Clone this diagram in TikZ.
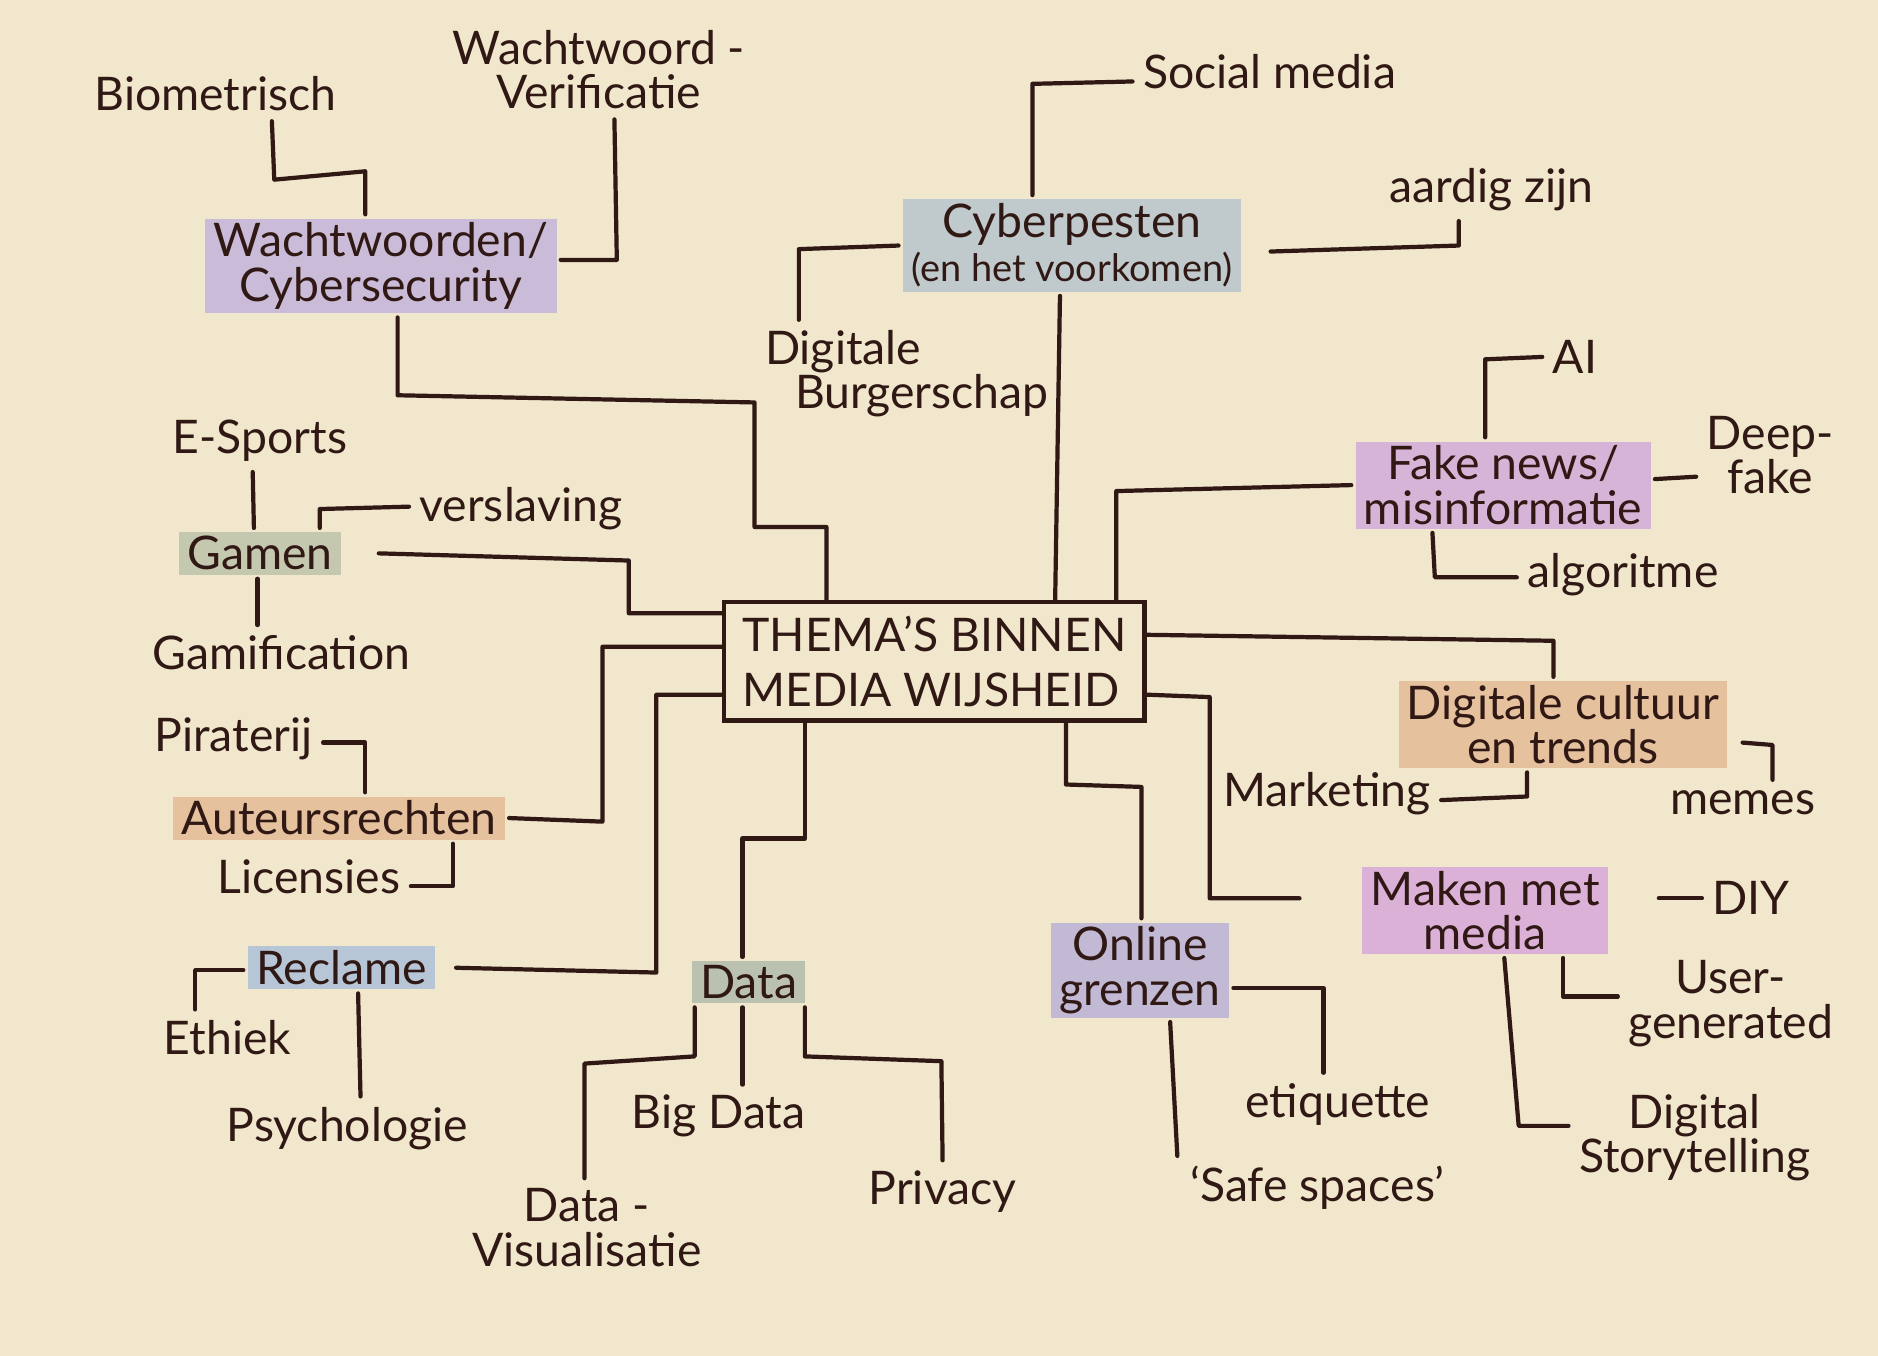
\documentclass[tikz,border=0pt]{standalone}
\usepackage{fontspec}
\setmainfont{Lato}
\usepackage{tikz}
\usetikzlibrary{positioning}
\definecolor{dPaper}{RGB}{241,231,204}
\definecolor{dInk}{RGB}{48,24,20}
\definecolor{dLila}{RGB}{202,188,216}
\definecolor{dGrey}{RGB}{192,202,204}
\definecolor{dMoss}{RGB}{196,200,174}
\definecolor{dApricot}{RGB}{229,193,158}
\definecolor{dSky}{RGB}{182,198,214}
\definecolor{dSage}{RGB}{186,193,175}
\definecolor{dLavender}{RGB}{194,186,213}
\definecolor{dPink}{RGB}{219,177,215}
\definecolor{dMauve}{RGB}{214,180,215}
\tikzset{
  sub/.style={text=dInk, inner sep=1.5pt, outer sep=1pt, align=center,
              font=\fontsize{11}{10.5}\selectfont},
  topic/.style={sub, inner xsep=2pt, inner ysep=1pt},
  hub/.style={rectangle, draw=dInk, line width=1.1pt, fill=dPaper,
              minimum width=3.51cm, minimum height=0.95cm, align=left,
              text=dInk, font=\fontsize{11}{13}\selectfont},
  link/.style={draw=dInk, line width=1pt, line join=round, line cap=round},
}

\begin{document}
\begin{tikzpicture}[x=0.01cm, y=-0.01cm]
  \fill[dPaper] (0,0) rectangle (1568,1132);
  \useasboundingbox (0,0) rectangle (1568,1132);
  % centre
  \node[hub] (thema) at (780,552) {THEMA'S BINNEN\\MEDIA WIJSHEID};
  % themes and their branches
  \node[sub] (bio) at (180,78) {Biometrisch};
  \node[sub] (verif) at (500,58) {Wachtwoord -\\Verificatie};
  \node[topic, fill=dLila] (wacht) at (318,222) {Wachtwoorden/\\Cybersecurity};
  \node[sub] (social) at (1060,60) {Social media};
  \node[topic, fill=dGrey] (cyber) at (895,205)
    {Cyberpesten\\{\fontsize{9}{10}\selectfont (en het voorkomen)}};
  \node[sub] (aardig) at (1245,158) {aardig zijn};
  \node[sub, align=left, anchor=west] (burger) at (630,312)
    {Digitale\\\hspace*{2.5mm}Burgerschap};
  \node[sub] (esports) at (217,368) {E-Sports};
  \node[topic, fill=dMoss] (gamen) at (217,462) {Gamen};
  \node[sub] (versl) at (435,425) {verslaving};
  \node[sub] (gamif) at (235,545) {Gamification};
  \node[sub] (pirat) at (195,617) {Piraterij};
  \node[topic, fill=dApricot] (auteur) at (283,683) {Auteursrechten};
  \node[sub] (licen) at (258,732) {Licensies};
  \node[topic, fill=dSky] (reclame) at (285,808) {Reclame};
  \node[sub] (ethiek) at (190,866) {Ethiek};
  \node[sub] (psych) at (290,942) {Psychologie};
  \node[topic, fill=dSage] (data) at (625,820) {Data};
  \node[sub] (bigdata) at (600,932) {Big Data};
  \node[sub] (visual) at (490,1025) {Data -\\Visualisatie};
  \node[sub] (privacy) at (787,995) {Privacy};
  \node[topic, fill=dLavender] (online) at (952,810) {Online\\grenzen};
  \node[sub] (etiq) at (1117,922) {etiquette};
  \node[sub] (safe) at (1100,992) {`Safe spaces'};
  \node[topic, fill=dPink] (maken) at (1240,760) {Maken met\\media};
  \node[sub] (diy) at (1462,750) {DIY};
  \node[sub] (usergen) at (1445,838) {User-\\generated};
  \node[sub] (story) at (1415,950) {Digital\\Storytelling};
  \node[sub] (market) at (1108,663) {Marketing};
  \node[sub] (memes) at (1455,670) {memes};
  \node[topic, fill=dApricot] (digcult) at (1305,605) {Digitale cultuur\\en trends};
  \node[topic, fill=dMauve] (fake) at (1255,405) {Fake news/\\misinformatie};
  \node[sub] (ai) at (1315,298) {AI};
  \node[sub] (deepfake) at (1478,380) {Deep-\\fake};
  \node[sub] (algo) at (1355,480) {algoritme};
  \coordinate (memesTip) at (1455,620);
  \coordinate (makenIn) at (1085,750);
  \coordinate (makenOut) at (1385,750);

  % themes to the centre
  \draw[link] (wacht.south -| 332,0) -- (332,330) -- (630,336) -- (630,440)
    -- (690,440) -- (thema.north -| 690,0);
  \draw[link] ([xshift=8pt]gamen.east) -- (525,468) -- (525,512) -- (thema.west |- 0,512);
  \draw[link] (auteur.east) -- (503,686) -- (503,540) -- (thema.west |- 0,540);
  \draw[link] ([xshift=4pt]reclame.east) -- (548,812) -- (548,580) -- (thema.west |- 0,580);
  \draw[link] (cyber.south -| 885,0) -- (thema.north -| 881,0);
  \draw[link] (fake.west) -- (932,410) -- (thema.north -| 932,0);
  \draw[link] (thema.east |- 0,530) -- (1297,535) -- (digcult.north -| 1297,0);
  \draw[link] (thema.east |- 0,580) -- (1010,582) -- (1010,750) -- (makenIn);
  \draw[link] (thema.south -| 890,0) -- (890,655) -- (953,657) -- (online.north -| 953,0);
  \draw[link] (thema.south -| 672,0) -- (672,700) -- (620,700) -- (data.north -| 620,0);

  % branches
  \draw[link] (bio.south -| 227,0) -- (229,150) -- (305,143) -- (wacht.north -| 305,0);
  \draw[link] (verif.south -| 513,0) -- (515,217) -- (wacht.east |- 0,217);
  \draw[link] (cyber.north -| 862,0) -- (862,70) -- (social.west |- 0,68);
  \draw[link] (burger.north -| 667,0) -- (667,208) -- (cyber.west |- 0,205);
  \draw[link] ([xshift=6pt]cyber.east |- 0,210) -- (1218,205) -- (aardig.south -| 1218,0);
  \draw[link] (esports.south -| 211,0) -- (gamen.north -| 212,0);
  \draw[link] (gamen.north -| 267,0) -- (267,425) -- (versl.west |- 0,423);
  \draw[link] (gamen.south -| 215,0) -- (gamif.north -| 215,0);
  \draw[link] (pirat.east |- 0,620) -- (305,620) -- (auteur.north -| 305,0);
  \draw[link] (licen.east |- 0,740) -- (378,740) -- (auteur.south -| 378,0);
  \draw[link] (ethiek.north -| 163,0) -- (163,810) -- (reclame.west |- 0,810);
  \draw[link] (reclame.south -| 299,0) -- (psych.north -| 301,0);
  \draw[link] (data.south -| 580,0) -- (580,882) -- (488,888) -- (visual.north -| 488,0);
  \draw[link] (data.south -| 620,0) -- (bigdata.north -| 620,0);
  \draw[link] (data.south -| 672,0) -- (672,882) -- (786,886) -- (privacy.north -| 787,0);
  \draw[link] (online.east |- 0,825) -- (1105,825) -- (etiq.north -| 1105,0);
  \draw[link] (online.south -| 977,0) -- (safe.north -| 983,0);
  \draw[link] (makenOut) -- (diy.west |- 0,750);
  \draw[link] (maken.south -| 1305,0) -- (1305,832) -- (usergen.west |- 0,832);
  \draw[link] (maken.south -| 1256,0) -- (1268,940) -- (story.west |- 0,940);
  \draw[link] (market.east |- 0,668) -- (1275,665) -- (digcult.south -| 1275,0);
  \draw[link] (memesTip) -- (1480,622) -- (memes.north -| 1480,0);
  \draw[link] (fake.north -| 1240,0) -- (1240,300) -- (ai.west |- 0,298);
  \draw[link] (fake.east |- 0,400) -- (deepfake.west |- 0,398);
  \draw[link] (fake.south -| 1196,0) -- (1198,482) -- (algo.west |- 0,482);
\end{tikzpicture}
\end{document}
